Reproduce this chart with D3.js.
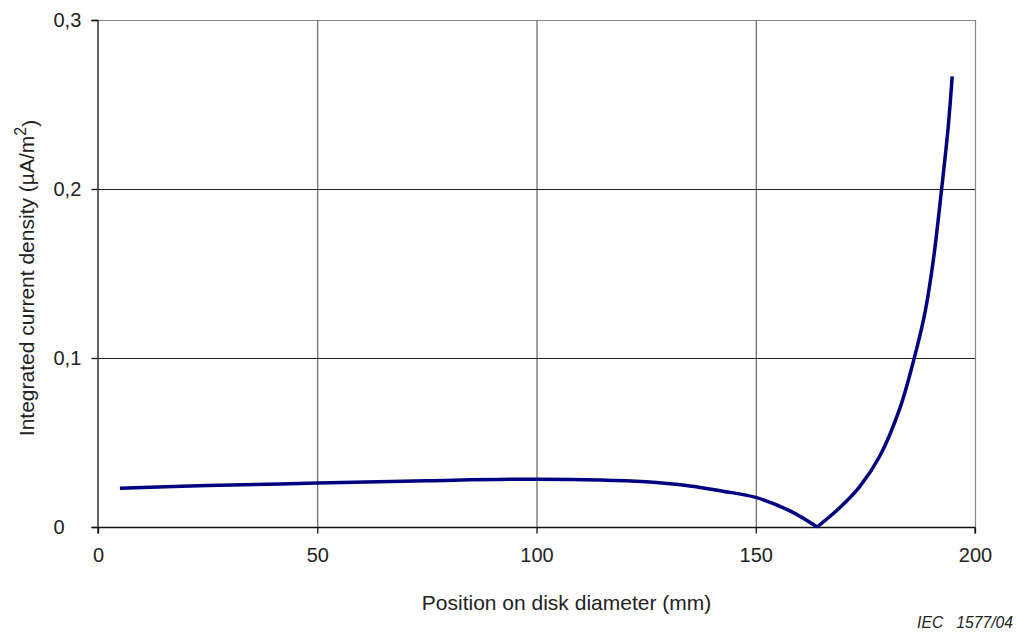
<!DOCTYPE html>
<html>
<head>
<meta charset="utf-8">
<script src="https://cdn.jsdelivr.net/npm/d3@7"></script>
<style>
	body { margin: 0; background: #fff; }
	text { font-family: "Liberation Sans", Arial, sans-serif; fill: #222; }
</style>
</head>
<body>
<script>
// Data
var positions = [5, 25, 50, 75, 100, 125, 135, 142.5, 150, 157.8, 164, 169.2, 173.8, 178.3, 182.9, 186.1, 188.6, 190.5, 192.4, 193.9, 194.8];
var density = [0.023, 0.0245, 0.026, 0.0274, 0.0283, 0.0268, 0.0243, 0.0212, 0.0175, 0.0095, 0, 0.0115, 0.0242, 0.042, 0.0705, 0.0995, 0.127, 0.158, 0.2003, 0.237, 0.2666];
var xTicks = [0, 50, 100, 150, 200];
var yTicks = [0, 0.1, 0.2, 0.3];
var yTickLabels = ["0", "0,1", "0,2", "0,3"];

var width = 1017, height = 633;
var margin = {top: 20, right: 42, bottom: 106, left: 98};

var svg = d3.select("body").append("svg")
		.attr("width", width)
		.attr("height", height);

var x = d3.scaleLinear().domain([0, 200]).range([margin.left, width - margin.right]);
var y = d3.scaleLinear().domain([0, 0.3]).range([height - margin.bottom, margin.top]);

// Grid
var grid = svg.append("g").attr("class", "grid");
grid.selectAll(".vgrid")
	.data(xTicks.slice(1, -1))
	.enter().append("line")
		.attr("x1", function(d) { return x(d) + 0.5; })
		.attr("x2", function(d) { return x(d) + 0.5; })
		.attr("y1", y(0.3))
		.attr("y2", y(0))
		.style("stroke", "#444")
		.style("stroke-width", 1);
grid.selectAll(".hgrid")
	.data(yTicks.slice(1, -1))
	.enter().append("line")
		.attr("x1", x(0))
		.attr("x2", x(200))
		.attr("y1", function(d) { return Math.round(y(d)) + 0.5; })
		.attr("y2", function(d) { return Math.round(y(d)) + 0.5; })
		.style("stroke", "#222")
		.style("stroke-width", 1);

// Frame top and right
svg.append("path")
	.attr("d", "M" + x(0) + "," + (y(0.3) + 0.5) + "H" + (x(200) + 0.5) + "V" + y(0))
	.style("fill", "none")
	.style("stroke", "#888")
	.style("stroke-width", 1.2);

// Axes
var xAxis = d3.axisBottom(x).tickValues(xTicks).tickSize(6).tickPadding(14);
var yAxis = d3.axisLeft(y).tickValues(yTicks).tickSize(6).tickFormat(function(d, i) { return yTickLabels[i]; });

var gx = svg.append("g")
		.attr("transform", "translate(0," + (Math.round(y(0)) + 0.5) + ")")
		.call(xAxis);
var gy = svg.append("g")
		.attr("transform", "translate(" + (x(0) - 0.5) + ",0)")
		.call(yAxis);

[gx, gy].forEach(function(g) {
	g.select(".domain").style("stroke", "#111").style("stroke-width", 1.3);
	g.selectAll(".tick line").style("stroke", "#111").style("stroke-width", 1.3);
	g.selectAll(".tick text").style("font-size", "20px").style("fill", "#222").attr("font-family", null);
});
gx.select(".domain").attr("d", "M" + x(0) + ",6V0H" + x(200) + "V6");
gy.selectAll(".tick text")
	.attr("x", -44)
	.style("text-anchor", "start");

// Curve: two smooth branches meeting at the sharp minimum
var minIndex = d3.minIndex(density);
var pts = d3.zip(positions, density);
var line = d3.line()
		.x(function(d) { return x(d[0]); })
		.y(function(d) { return y(d[1]); })
		.curve(d3.curveCatmullRom.alpha(0.5));

svg.selectAll(".branch")
	.data([pts.slice(0, minIndex + 1), pts.slice(minIndex)])
	.enter().append("path")
		.attr("class", "branch")
		.attr("d", line)
		.style("fill", "none")
		.style("stroke", "#000080")
		.style("stroke-width", 3.5)
		.style("stroke-linejoin", "round");

// Axis titles
svg.append("text")
	.attr("x", x(100) + 30)
	.attr("y", 610)
	.style("text-anchor", "middle")
	.style("font-size", "21px")
	.text("Position on disk diameter (mm)");

var yt = svg.append("text")
	.attr("transform", "translate(34," + 278 + ") rotate(-90)")
	.style("text-anchor", "middle")
	.style("font-size", "21px");
yt.append("tspan").text("Integrated current density (µA/m");
yt.append("tspan").attr("dy", "-0.5em").style("font-size", "16px").text("2");
yt.append("tspan").attr("dy", "0.5em").text(")");

svg.append("text")
	.attr("x", 1013)
	.attr("y", 628)
	.style("text-anchor", "end")
	.style("font-size", "15.7px")
	.style("font-style", "italic")
	.attr("xml:space", "preserve")
	.text("IEC   1577/04");
</script>
</body>
</html>
